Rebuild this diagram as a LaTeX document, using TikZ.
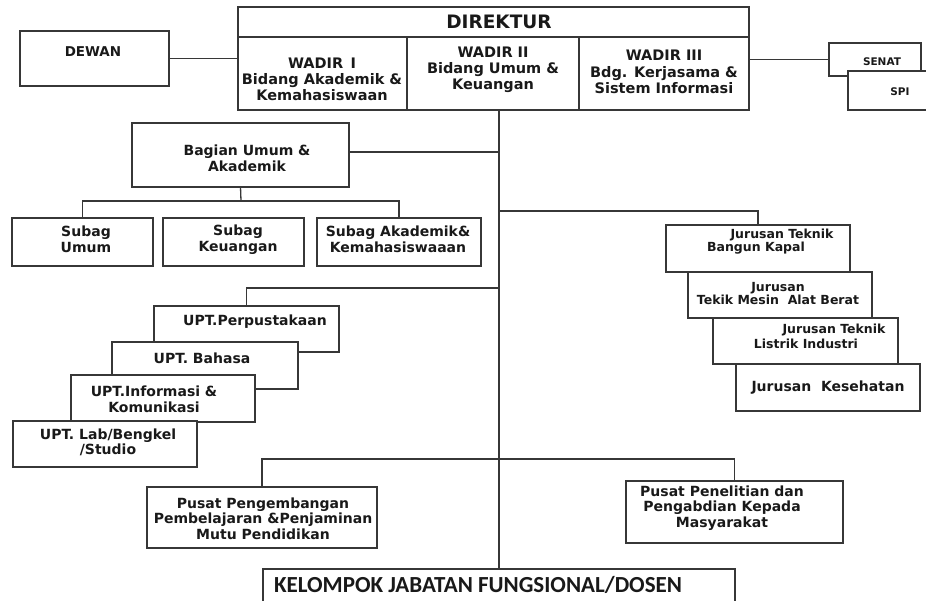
\documentclass[tikz,border=0pt]{standalone}
\usepackage{fontspec}
\setmainfont{DejaVu Sans}
\newfontfamily\kfont{Carlito}
\definecolor{lc}{RGB}{55,55,55}
\definecolor{tc}{RGB}{25,25,25}
\newcommand{\fs}[2]{\fontsize{#1}{#2}\selectfont\bfseries}
\newcommand{\bbox}[5]{\node[box, minimum width={#4-#2}, minimum height={#5-#3}] (#1) at ({(#2+#4)/2},{(#3+#5)/2}) {};}
\tikzset{
  box/.style={draw=lc, line width=1.3pt, fill=white, inner sep=0pt, outer sep=0pt},
  conn/.style={draw=lc, line width=1.3pt},
  txt/.style={align=center, inner sep=0pt, text=tc, font=\fs{14}{15.5}},
  wtxt/.style={txt, font=\fs{14.5}{16.2}},
  jtxt/.style={txt, font=\fs{12.5}{13.5}},
}
\begin{document}
\begin{tikzpicture}[x=1pt,y=-1pt]
\useasboundingbox (0,0) rectangle (926,601);
% named coordinates for connector rails
\coordinate (vx) at (499,0);
\coordinate (bj) at (241,201);
\coordinate (jy) at (0,211);
\coordinate (uy) at (0,288);
\coordinate (by) at (499,459);

% ---- boxes (needed for connectors) ----
\bbox{dirk}{238}{7}{749}{37}
\bbox{w1}{238}{37}{407}{110}
\bbox{w2}{407}{37}{579}{110}
\bbox{w3}{579}{37}{749}{110}
\bbox{kel}{263}{569}{735}{606}

% ---- connectors ----
\draw[conn] (vx |- w2.south) -- (vx |- kel.north);
\bbox{dewan}{20}{31}{169}{86}
\draw[conn] (dewan.east) -- (dewan.east -| w1.west);

\bbox{senat}{829}{43}{921}{76}
\bbox{spi}{848}{71}{932}{110}
\draw[conn] (senat.west -| w3.east) -- (senat.west);

\bbox{bag}{132}{123}{349}{187}
\draw[conn] ([yshift=3pt]bag.east) -- ([yshift=3pt]bag.east -| vx);
\draw[conn] (bag.south) -- (bj);

\bbox{su}{12}{218}{153}{266}
\bbox{sk}{163}{218}{304}{266}
\bbox{sa}{317}{218}{481}{266}
\draw[conn] (su.north) |- (bj) -| (sa.north);

% Jurusan
\bbox{ja}{666}{225}{850}{272}
\bbox{jb}{688}{272}{872}{318}
\bbox{jc}{713}{318}{898}{364}
\bbox{jd}{736}{364}{920}{411}
\draw[conn] (vx |- jy) -| (ja.north);

% UPT
\bbox{ua}{154}{306}{339}{352}
\bbox{ub}{112}{342}{298}{389}
\bbox{uc}{71}{375}{255}{422}
\bbox{ud}{13}{421}{197}{467}
\draw[conn] (vx |- uy) -| (ua.north);

% Pusat
\bbox{pa}{147}{487}{377}{548}
\bbox{pb}{626}{481}{843}{543}
\draw[conn] (pa.north) |- (by) -| (pb.north);

% ---- texts ----
\node[txt, font=\fs{18.5}{20}] (tdir) at (499,22) {DIREKTUR};
\node[wtxt] (tw1) at (322,79.5) {WADIR\enspace I\\Bidang Akademik \&\\Kemahasiswaan};
\node[wtxt] (tw2) at (493,69.5) {WADIR II\\Bidang Umum \&\\Keuangan};
\node[wtxt] (tw3) at (664,72) {WADIR III\\Bdg. Kerjasama \&\\Sistem Informasi};
\node[txt, font=\fs{13.5}{14}] (tdewan) at (93,52) {DEWAN};
\node[txt, font=\fs{10.5}{12}] (tsenat) at (882,62) {SENAT};
\node[txt, font=\fs{10.5}{12}] (tspi) at (900,92) {SPI};
\node[txt] (tbag) at (247,158.5) {Bagian Umum \&\\Akademik};
\node[txt] (tsu) at (86,239.5) {Subag\\Umum};
\node[txt] (tsk) at (238,239.5) {Subag\\Keuangan};
\node[txt] (tsa) at (398,239.5) {Subag Akademik\&\\Kemahasiswaaan};
\node[txt] (tua) at (255,322) {UPT.Perpustakaan};
\node[txt] (tub) at (202,358) {UPT. Bahasa};
\node[txt] (tuc) at (154,399.5) {UPT.Informasi \&\\Komunikasi};
\node[txt] (tud) at (108,442.5) {UPT. Lab/Bengkel\\/Studio};
\node[jtxt] (tja1) at (782,235) {Jurusan Teknik};
\node[jtxt] (tja2) at (756,248) {Bangun Kapal};
\node[jtxt] (tjb) at (778,293.5) {Jurusan\\Tekik Mesin\ \ Alat Berat};
\node[jtxt] (tjc1) at (834,330) {Jurusan Teknik};
\node[jtxt] (tjc2) at (806,344) {Listrik Industri};
\node[txt] (tjd) at (828,388) {Jurusan\ \ Kesehatan};
\node[txt] (tpa) at (263,518.5) {Pusat Pengembangan\\Pembelajaran \&Penjaminan\\Mutu Pendidikan};
\node[txt] (tpb) at (722,508) {Pusat Penelitian dan\\Pengabdian Kepada\\Masyarakat};
\node[txt, font={\kfont\fontsize{23}{26}\selectfont\bfseries}] (tkel) at (478,585) {KELOMPOK JABATAN FUNGSIONAL/DOSEN};
\end{tikzpicture}
\end{document}
